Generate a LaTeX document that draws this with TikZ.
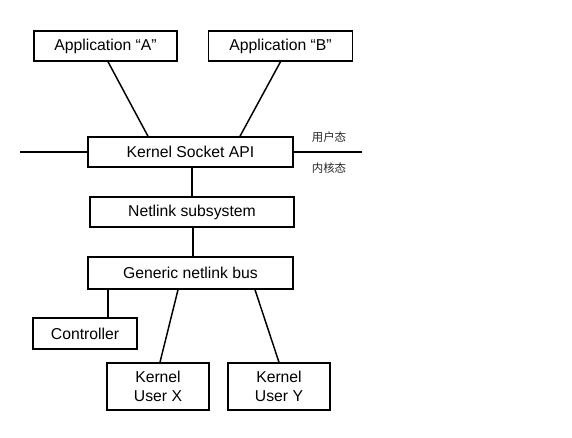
\documentclass[tikz,border=0pt]{standalone}
\usepackage{fontspec}
\setmainfont{Liberation Sans}
\newfontfamily\cjk{Noto Sans CJK SC}
\usetikzlibrary{calc}
\tikzset{
  block/.style={draw, line width=1.1pt, inner sep=0pt, minimum height=22.5pt,
    font=\fontsize{11.8}{14.2}\selectfont, align=center},
  link/.style={line width=1.1pt},
  zone/.style={font=\cjk\fontsize{8.6}{11}\selectfont, text=black!85}
}

\begin{document}
\begin{tikzpicture}[x=0.75pt, y=-0.75pt]
    \useasboundingbox (0,0) rectangle (572,438);

    % user space
    \node[block, minimum width=107.5pt] (appA) at (105.5,46) {Application “A”};
    \node[block, minimum width=108pt] (appB) at (280.5,46) {Application “B”};

    % kernel side
    \node[block, minimum width=153.75pt] (api) at (190.5,152) {Kernel Socket API};
    \node[block, minimum width=153pt] (netlink) at (192,212) {Netlink subsystem};
    \node[block, minimum width=153.75pt, minimum height=24pt] (bus) at (190.5,273) {Generic netlink bus};
    \node[block, minimum width=78pt, minimum height=23.25pt] (ctrl) at (85,333.5) {Controller};
    \node[block, minimum width=76.5pt, minimum height=35.25pt] (userX) at (158,386.5) {Kernel\\User X};
    \node[block, minimum width=76.5pt, minimum height=35.25pt] (userY) at (279,386.5) {Kernel\\User Y};

    % boundary between the two spaces
    \coordinate (leftend) at (20,152);
    \coordinate (rightend) at (362,152);
    \draw[link] (leftend) -- (api.west);
    \draw[link] (api.east) -- (rightend);
    \node[zone] (userzone) at (329,137) {用户态};
    \node[zone] (kernzone) at (329,168) {内核态};

    \draw[link] ($(appA.south)+(2.5,0)$) -- ($(api.north)+(-42.5,0)$);
    \draw[link] ($(appB.south)+(0,0)$) -- ($(api.north)+(49.5,0)$);
    \draw[link] ($(api.south)+(1.5,0)$) -- ($(netlink.north)+(0,0)$);
    \draw[link] ($(netlink.south)+(1,0)$) -- ($(bus.north)+(2.5,0)$);
    \draw[link] ($(bus.south)+(-82.5,0)$) -- ($(ctrl.north)+(23,0)$);
    \draw[link] ($(bus.south)+(-12.5,0)$) -- ($(userX.north)+(2,0)$);
    \draw[link] ($(bus.south)+(64.5,0)$) -- ($(userY.north)+(0,0)$);
\end{tikzpicture}
\end{document}
